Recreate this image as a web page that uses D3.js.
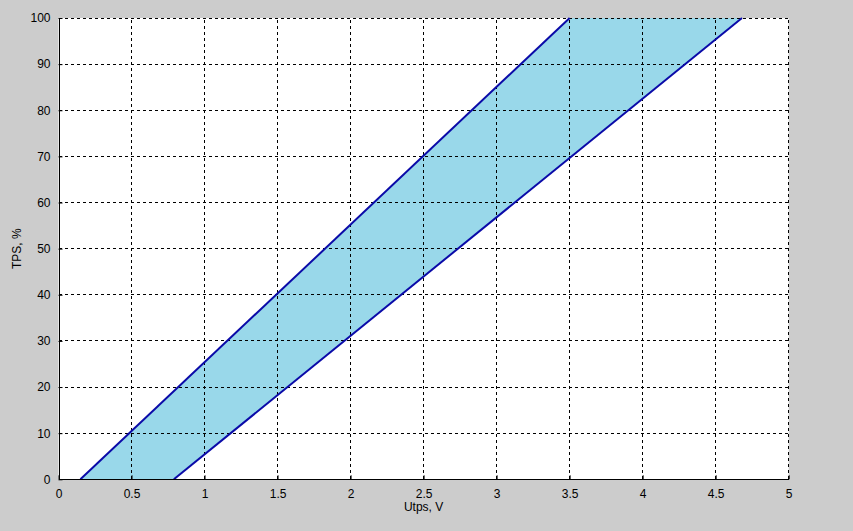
<!DOCTYPE html>
<html lang="en">
<head>
  <meta charset="UTF-8">
  <title>TPS vs Utps</title>
  <style>
    body, html {
        margin: 0;
        padding: 0;
        background-color: #CCCCCC;
    }
    svg { display: block; }
    .tick text { font-family: "Liberation Sans", Arial, sans-serif; font-size: 12px; fill: #000; }
  </style>
</head>
<body>
<svg id="chart" width="853" height="531"></svg>
<script src="https://d3js.org/d3.v7.min.js"></script>
<script>
// values
var xTicks = [0, 0.5, 1, 1.5, 2, 2.5, 3, 3.5, 4, 4.5, 5];
var yTicks = [0, 10, 20, 30, 40, 50, 60, 70, 80, 90, 100];
var upperX = [0.15, 3.5];   // left edge of the band
var upperY = [0, 100];
var lowerX = [0.79, 4.68];  // right edge of the band
var lowerY = [0, 100];

var svg = d3.select("#chart"),
    pLeft = 58.5, pRight = 788.7, pTop = 18, pBottom = 479.3;

var x = d3.scaleLinear().domain([0, 5]).range([pLeft, pRight]);
var y = d3.scaleLinear().domain([0, 100]).range([pBottom, pTop]);

svg.append("rect")
    .attr("x", pLeft).attr("y", pTop)
    .attr("width", pRight - pLeft).attr("height", pBottom - pTop)
    .attr("fill", "#fff");

// band
var upper = upperX.map(function (d, i) { return [d, upperY[i]]; });
var lower = lowerX.map(function (d, i) { return [d, lowerY[i]]; });
var poly = upper.concat(lower.slice().reverse());
var line = d3.line().x(function (d) { return x(d[0]); }).y(function (d) { return y(d[1]); });

svg.append("path")
    .attr("d", line(poly) + "Z")
    .attr("fill", "#99D8EA");

// grid
var grid = svg.append("g").attr("stroke", "#000").attr("stroke-width", 1)
    .attr("stroke-dasharray", "3,3").attr("shape-rendering", "crispEdges");
xTicks.slice(1).forEach(function (t) {
  grid.append("line").attr("x1", x(t)).attr("x2", x(t)).attr("y1", pBottom).attr("y2", pTop);
});
yTicks.slice(1).forEach(function (t) {
  grid.append("line").attr("x1", pLeft).attr("x2", pRight).attr("y1", y(t)).attr("y2", y(t));
});

// lines
[upper, lower].forEach(function (pts) {
  svg.append("path")
      .attr("d", line(pts))
      .attr("fill", "none")
      .attr("stroke", "#0a0aa8")
      .attr("stroke-width", 2);
});

// axes
var xAxis = svg.append("g").attr("transform", "translate(0," + pBottom + ")")
    .call(d3.axisBottom(x).tickValues(xTicks).tickSizeInner(-4).tickSizeOuter(0).tickPadding(10)
      .tickFormat(function (d) { return String(d); }));
var yAxis = svg.append("g").attr("transform", "translate(" + pLeft + ",0)")
    .call(d3.axisLeft(y).tickValues(yTicks).tickSizeInner(-4).tickSizeOuter(0).tickPadding(8));
[xAxis, yAxis].forEach(function (a) {
  a.select(".domain").attr("stroke", "#000").attr("shape-rendering", "crispEdges");
  a.selectAll(".tick line").attr("stroke", "#000");
});

svg.append("text")
    .attr("x", (pLeft + pRight) / 2).attr("y", 511)
    .attr("text-anchor", "middle")
    .attr("font-family", "Liberation Sans, Arial, sans-serif").attr("font-size", 12)
    .text("Utps, V");

svg.append("text")
    .attr("transform", "translate(21," + (pTop + pBottom) / 2 + ") rotate(-90)")
    .attr("text-anchor", "middle")
    .attr("font-family", "Liberation Sans, Arial, sans-serif").attr("font-size", 12)
    .text("TPS, %");
</script>
</body>
</html>
